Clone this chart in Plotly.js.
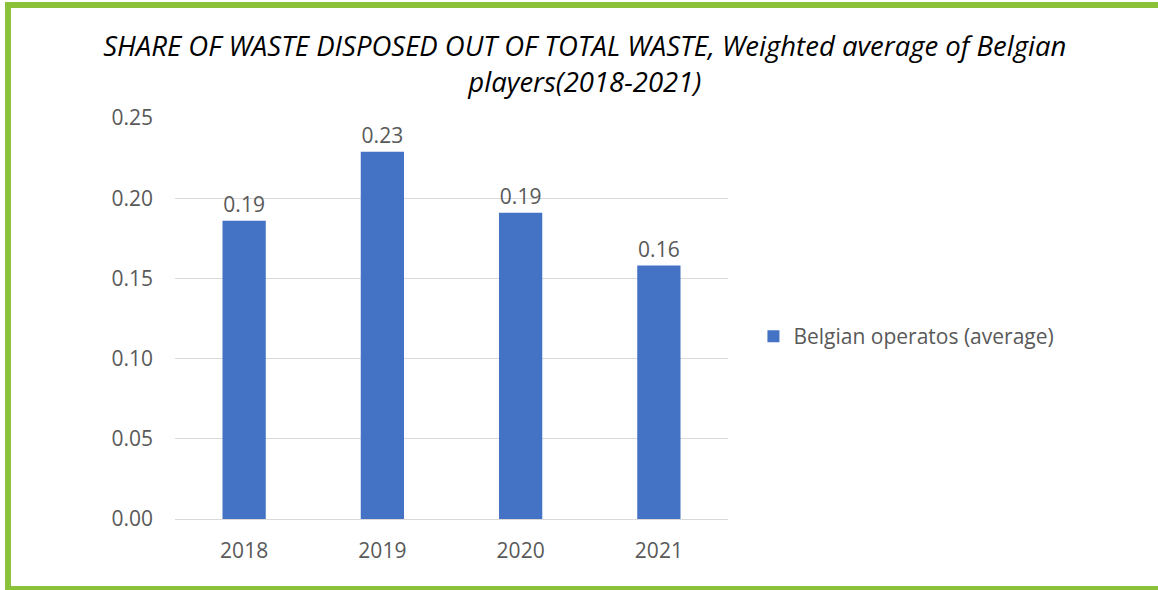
<!DOCTYPE html>
<html>
<head>
<meta charset="utf-8">
<script src="https://cdn.plot.ly/plotly-3.0.1.min.js"></script>
<style>
  html, body { margin: 0; padding: 0; background: #fff; overflow: hidden; width: 1158px; height: 590px; }
  #wrap { position: absolute; left: 0; top: 0; width: 1158px; height: 590px; overflow: hidden; }
  #chart { width: 1158px; height: 590px; position: absolute; left: 0; top: 0; }
  #frame { position: absolute; left: 5px; top: 2px; width: 1200px; height: 578px; border-top: 6px solid #8cc13b; border-left: 6px solid #8cc13b; border-bottom: 6px solid #8cc13b; pointer-events: none; }
</style>
</head>
<body>
<div id="wrap">
  <div id="chart"></div>
  <div id="frame"></div>
</div>
<script>
const years = ['2018', '2019', '2020', '2021'];
const shareDisposed = [0.186, 0.229, 0.191, 0.158];
const seriesName = 'Belgian operatos (average)';
const titleText = 'SHARE OF WASTE DISPOSED OUT OF TOTAL WASTE, Weighted average of Belgian<br>players(2018-2021)';
const yTicks = [0, 0.05, 0.10, 0.15, 0.20, 0.25];

const font = 'Open Sans, Noto Sans, sans-serif';

const trace = {
  type: 'bar',
  x: years,
  y: shareDisposed,
  name: seriesName,
  marker: { color: '#4472c4' },
  text: shareDisposed.map(v => v.toFixed(2)),
  textposition: 'outside',
  cliponaxis: false,
  textfont: { family: font, size: 21, color: '#595959' },
  showlegend: true
};

const layout = {
  width: 1158,
  height: 590,
  paper_bgcolor: '#ffffff',
  plot_bgcolor: '#ffffff',
  margin: { l: 175, r: 430, t: 118, b: 71 },
  bargap: 0.687,
  title: {
    text: titleText,
    font: { family: font, size: 27.5, color: '#000000', style: 'italic' },
    x: 0.505,
    xanchor: 'center',
    yref: 'container',
    y: 0.905,
    yanchor: 'middle'
  },
  xaxis: {
    type: 'category',
    tickfont: { family: font, size: 21, color: '#595959' },
    showline: true,
    linecolor: '#d9d9d9',
    linewidth: 1,
    ticks: '',
    ticklabelstandoff: 13,
    showgrid: false
  },
  yaxis: {
    range: [0, 0.25],
    tickvals: yTicks,
    tickformat: '.2f',
    tickfont: { family: font, size: 21, color: '#595959' },
    showgrid: true,
    gridcolor: '#d9d9d9',
    gridwidth: 1,
    zeroline: false,
    showline: false,
    ticks: '',
    ticklabelstandoff: 21
  },
  legend: {
    x: 1.046,
    y: 0.455,
    xanchor: 'left',
    yanchor: 'middle',
    font: { family: font, size: 21, color: '#595959' },
    itemwidth: 30
  },
  showlegend: true
};

Plotly.newPlot('chart', [trace], layout, { displayModeBar: false, staticPlot: true });
</script>
</body>
</html>
